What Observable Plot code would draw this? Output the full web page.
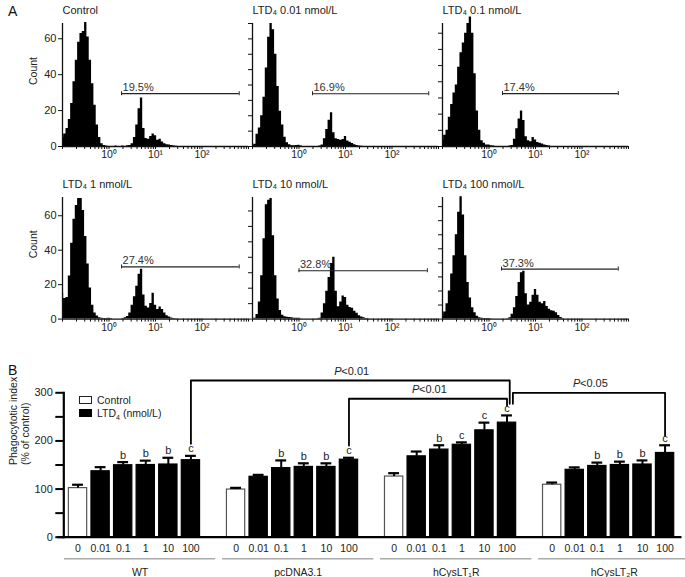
<!DOCTYPE html>
<html><head><meta charset="utf-8">
<script src="https://cdn.jsdelivr.net/npm/d3@7"></script>
<script src="https://cdn.jsdelivr.net/npm/@observablehq/plot@0.6"></script>
<style>
body{margin:0;background:#fff;}
#fig{position:relative;width:685px;height:577px;overflow:hidden;font-family:"Liberation Sans",Arial,sans-serif;color:#222;background:#fff;}
#fig svg{position:absolute;overflow:visible;}
.plabel{position:absolute;font-size:14px;line-height:14px;color:#111;}
.leg{position:absolute;font-size:10.5px;line-height:12px;color:#222;}
.box{position:absolute;width:12px;height:7px;}
</style></head><body><div id="fig"></div>
<script>
// ================= Panel A data (flow-cytometry histograms) =================
const histBinStartLog = -1;      // first bin at 10^-1
const histBinStepLog = 0.05;     // bin width in decades
const histTitles = ["Control", "LTD₄ 0.01 nmol/L", "LTD₄ 0.1 nmol/L", "LTD₄ 1 nmol/L", "LTD₄ 10 nmol/L", "LTD₄ 100 nmol/L"];
const histPercentLabels = ["19.5%", "16.9%", "17.4%", "27.4%", "32.8%", "37.3%"];
const countsControl = [5,7,10,15,24,36,48,58,63,64,69,61,48,35,23,12,5,1.5,0.5,0.3,
  0,0,0,0.3,0,0,0.3,0,0.4,0.5,
  1.5,5,12,21,27,10,4.5,4,5.5,7,6,3.5,4,2.5,1.5,1,0.8,0.5,0.3,0.2,0,0,0];
const counts001 = [0.3,1.5,8,12,20,32,51,71,80,76,60,39,23,14,6,2.5,1.2,0.5,0.5,0.6,
  0.8,0.4,0,0,0,0,0,0,0,0.3,
  1,5,11,17,22,9,5,4.5,4,4.5,6.5,3.5,2.8,2,1.2,0.6,0.4,0.2,0,0,0,0,0];
const counts01 = [4,7,10,18,26,33,38,49,58,64,70,76,80,70,45,22,10,3.5,2,1,
  1,0.5,0.3,0,0,0,0,0,0,0.3,
  0.6,4.5,11,17,22,16,6,3.5,3,5.5,4,2.5,2,1.5,1,0.6,0.3,0,0,0,0,0,0];
const counts1 = [15,12,12.5,25,44,58,66,70,70,63,48,32,18,8,3.5,1.8,0.8,0.5,0.3,0.3,
  0.5,0.3,0,0,0,0,0.4,0.8,1.5,3.5,
  8,13,19,26,29,14,7.5,6.5,9,15,8,5.5,7,5.5,3.5,2,1.2,0.7,0.4,0.2,0,0,0];
const counts10 = [0,0.5,3,11,28,52,74,77,78,54,28,13,5.5,2.5,1.5,1.2,1,0.8,0.6,0.5,
  0.5,0.3,0,0,0,0,0,0,0.3,0.5,
  4,10,18,27,36,40,18,8,11,15,14,9,7.5,7,5,3.8,2.2,1.3,0.8,0.4,0.2,0,0];
const counts100 = [2,5,11,20,32,45,60,76,87,74,45,26,15,8,4.5,2,1,0.6,0.5,0.5,
  0.4,0.3,0,0,0,0,0,0,0.3,1,
  3.5,8,16,26,33,34,18,10,12,17,21,17,12,11,12.5,9,7,6,5.5,4.5,2.5,1.2,0.4];
const gateCount = [29.4, 34.3, 32.7, 30.3, 31.3, 35.6];
const gateStartLog = [0.27, 0.29, 0.29, 0.27, 0.0, 0.27];
const gateEndLog = [2.8, 2.79, 2.78, 2.8, 2.76, 2.78];
const histYMax = [68.5, 80, 76, 70.6, 78.7, 86.5];
const histYTickStep = [20, 10, 10, 20, 10, 10];
const histXDomain = [0.1, 1000];
const decadeNames = {0: "10⁰", 1: "10¹", 2: "10²"};

// ================= Panel B data (phagocytotic index) =================
const groups = ["WT", "pcDNA3.1", "hCysLT₁R", "hCysLT₂R"];
const doseLabels = ["0", "0.01", "0.1", "1", "10", "100"];
const meanWT  = [102, 137, 149.5, 150, 151, 160];
const errWT   = [7, 8.5, 6.5, 9, 14, 9];
const meanPc  = [99, 125.5, 143.5, 146, 146, 161];
const errPc   = [3.5, 4, 16, 7.5, 7.5, 4];
const meanLT1 = [126, 168, 182, 192, 222, 238];
const errLT1  = [7, 10, 9, 5, 16, 15];
const meanLT2 = [109, 140, 148, 150, 151, 175];
const errLT2  = [4.5, 5, 7, 7, 8.5, 16];
const sigWT  = ["", "", "b", "b", "b", "c"];
const sigPc  = ["", "", "b", "b", "b", "c"];
const sigLT1 = ["", "", "b", "c", "c", "c"];
const sigLT2 = ["", "", "b", "b", "b", "c"];
const comparisons = [
  {from: "WT", to: "hCysLT₁R", dose: "100", p: "<0.01"},
  {from: "pcDNA3.1", to: "hCysLT₁R", dose: "100", p: "<0.01"},
  {from: "hCysLT₁R", to: "hCysLT₂R", dose: "100", p: "<0.05"}
];
const yTicksB = [0, 50, 100, 150, 200, 250, 300];

// ================= drawing =================
const fig = document.getElementById("fig");
const FONT = "'Liberation Sans', Arial, sans-serif";
function place(svg, left, top) {
  svg.style.position = "absolute";
  svg.style.left = left + "px";
  svg.style.top = top + "px";
  fig.appendChild(svg);
}

const xTicksHist = [];
for (let k = -1; k <= 2; k++) for (let m = 1; m <= 9; m++) xTicksHist.push(m * Math.pow(10, k));
xTicksHist.push(1000);
function decadeLabel(d) {
  for (const e of [0, 1, 2]) if (Math.abs(d - Math.pow(10, e)) < 1e-9) return decadeNames[e];
  return "";
}

const allCounts = [countsControl, counts001, counts01, counts1, counts10, counts100];
const rowsLayout = [{top: 22.7, bottom: 145.7}, {top: 196.7, bottom: 318.3}];
const colsAxisX = [62, 252.2, 442.4];
const HM = {l: 45, r: 12, t: 22, b: 22}, HW = 186;

allCounts.forEach((counts, i) => {
  const row = Math.floor(i / 3), col = i % 3;
  const lay = rowsLayout[row];
  const yMax = histYMax[i];
  const rows = counts.map((c, j) => ({x: Math.pow(10, histBinStartLog + j * histBinStepLog), y: c}));
  const yt = d3.range(0, yMax + 0.01, histYTickStep[i]);
  const g0 = Math.pow(10, gateStartLog[i]), g1 = Math.pow(10, gateEndLog[i]);
  const marks = [
    Plot.areaY(rows, {x: "x", y: "y", curve: "step", fill: "#000"}),
    Plot.ruleY([0], {stroke: "#111", strokeWidth: 1.3}),
    Plot.ruleX([histXDomain[0]], {y1: 0, y2: yMax, stroke: "#111", strokeWidth: 1.3}),
    Plot.axisX({ticks: xTicksHist, tickSize: 3, tickPadding: 1.5, tickFormat: decadeLabel, fontSize: 10.5, stroke: "#111", label: null}),
    Plot.axisY({ticks: yt, tickSize: 4, tickPadding: 2, tickFormat: col === 0 ? (d => d) : (() => ""), fontSize: 11, stroke: "#111", label: null}),
    Plot.ruleY([gateCount[i]], {x1: g0, x2: g1, stroke: "#222", strokeWidth: 1.2}),
    Plot.ruleX([g0, g1], {y1: gateCount[i], y2: gateCount[i], insetTop: -2, insetBottom: -2, stroke: "#222", strokeWidth: 1}),
    Plot.text([histPercentLabels[i]], {x: g0, y: gateCount[i], text: d => d, textAnchor: "start", dx: 1, dy: -6, fontSize: 11, fill: "#333"}),
    Plot.text([histTitles[i]], {frameAnchor: "top-left", text: d => d, textAnchor: "start", lineAnchor: "middle", dy: -13, fontSize: 11, fill: "#222"})
  ];
  if (col === 0) marks.push(Plot.text(["Count"], {frameAnchor: "left", text: d => d, rotate: -90, dx: -29, fontSize: 10.5, fill: "#222"}));
  const svg = Plot.plot({
    width: HM.l + HW + HM.r, height: HM.t + (lay.bottom - lay.top) + HM.b,
    marginLeft: HM.l, marginRight: HM.r, marginTop: HM.t, marginBottom: HM.b,
    style: {background: "transparent", fontFamily: FONT, color: "#222", overflow: "visible"},
    x: {type: "log", domain: histXDomain},
    y: {domain: [0, yMax]},
    marks
  });
  place(svg, colsAxisX[col] - HM.l, lay.top - HM.t);
});

// ---- Panel B ----
const means = [meanWT, meanPc, meanLT1, meanLT2];
const errs = [errWT, errPc, errLT1, errLT2];
const sigs = [sigWT, sigPc, sigLT1, sigLT2];
const slotsPerGroup = doseLabels.length + 1;
const bars = [];
groups.forEach((g, gi) => doseLabels.forEach((d, di) => {
  bars.push({group: g, dose: d, slot: gi * slotsPerGroup + di, mean: means[gi][di], err: errs[gi][di], sig: sigs[gi][di], control: di === 0});
}));
const slotOf = (g, d) => groups.indexOf(g) * slotsPerGroup + doseLabels.indexOf(d);
const groupInfo = groups.map((g, gi) => ({group: g, first: gi * slotsPerGroup}));

// bracket layout (annotation styling)
const bracketTop = [325.6, 287.6, 300];
const bracketFeet = [[194, 277], [190.5, 273.6], [277, 211]];
const bracketLegShift = [[0, 0.12], [0, 0], [0.26, 0]];
const bracketPts = [], bracketLabels = [];
comparisons.forEach((c, k) => {
  const x1 = slotOf(c.from, c.dose) + bracketLegShift[k][0];
  const x2 = slotOf(c.to, c.dose) + bracketLegShift[k][1];
  const top = bracketTop[k];
  bracketPts.push({k, x: x1, y: bracketFeet[k][0]}, {k, x: x1, y: top}, {k, x: x2, y: top}, {k, x: x2, y: bracketFeet[k][1]});
  bracketLabels.push({x: (x1 + x2) / 2, y: top, p: c.p});
});

const BM = {l: 63.3, r: 3.5, t: 34.3, b: 40.3}, BTop = 358;
const barHalf = 0.405, capHalf = 0.24;
const svgB = Plot.plot({
  width: 685, height: 577 - BTop,
  marginLeft: BM.l, marginRight: BM.r, marginTop: BM.t, marginBottom: BM.b,
  style: {background: "transparent", fontFamily: FONT, color: "#222", overflow: "visible"},
  x: {type: "linear", domain: [-0.63, 26.75]},
  y: {domain: [0, 300]},
  marks: [
    Plot.rectY(bars, {x1: d => d.slot - barHalf, x2: d => d.slot + barHalf, y1: 0, y2: "mean",
      fill: d => d.control ? "#fff" : "#000", stroke: d => d.control ? "#555" : "#000", strokeWidth: 1.2}),
    Plot.ruleX(bars, {x: "slot", y1: "mean", y2: d => d.mean + d.err, stroke: "#000", strokeWidth: 2}),
    Plot.ruleY(bars, {y: d => d.mean + d.err, x1: d => d.slot - capHalf, x2: d => d.slot + capHalf, stroke: "#000", strokeWidth: 2.2}),
    Plot.text(bars.filter(d => d.sig), {x: "slot", y: d => d.mean + d.err, text: "sig", dy: -7, fontSize: 11, fill: "#222"}),
    Plot.frame({anchor: "left", stroke: "#000", strokeWidth: 2.2}),
    Plot.ruleY([0], {stroke: "#000", strokeWidth: 2.2, insetLeft: -6}),
    Plot.axisY({ticks: yTicksB, tickSize: 8, tickPadding: 3, strokeWidth: 2, stroke: "#000", tickFormat: d => d % 100 === 0 ? d : "", fontSize: 11, label: null}),
    Plot.axisX({ticks: bars.map(b => b.slot), tickSize: 0, tickPadding: 7, tickFormat: s => doseLabels[s % slotsPerGroup], fontSize: 10.5, label: null}),
    Plot.ruleY(groupInfo, {y: () => 0, x1: d => d.first - 0.6, x2: d => d.first + 6.1, dy: 21.6, stroke: "#aaa", strokeWidth: 1.4}),
    Plot.text(groupInfo, {x: d => d.first + 2.75, y: () => 0, text: "group", dy: 35, fontSize: 10.5, fill: "#222"}),
    Plot.line(bracketPts, {x: "x", y: "y", z: "k", stroke: "#000", strokeWidth: 1.8}),
    Plot.text(bracketLabels, {x: "x", y: "y", text: () => "P", dx: -16, dy: -9.5, textAnchor: "start", fontStyle: "italic", fontSize: 11, fill: "#222"}),
    Plot.text(bracketLabels, {x: "x", y: "y", text: "p", dx: -9, dy: -9.5, textAnchor: "start", fontSize: 11, fill: "#222"}),
    Plot.text(["Phagocytotic index\n(% of control)"], {frameAnchor: "left", text: d => d, rotate: -90, dx: -45, lineHeight: 1.2, fontSize: 10.5, fill: "#222"})
  ]
});
place(svgB, 0, BTop);

// panel letters and legend
function addDiv(cls, html, left, top, extra) {
  const el = document.createElement("div");
  el.className = cls; el.innerHTML = html;
  el.style.left = left + "px"; el.style.top = top + "px";
  if (extra) Object.assign(el.style, extra);
  fig.appendChild(el);
}
addDiv("plabel", "A", 8, 4);
addDiv("plabel", "B", 8, 363);
addDiv("box", "", 79, 396, {border: "1.3px solid #222", background: "#fff", boxSizing: "border-box", width: "13px", height: "8px"});
addDiv("box", "", 79, 409, {background: "#000", width: "13px", height: "8px"});
addDiv("leg", "Control", 97, 394);
addDiv("leg", "LTD<sub style='font-size:7px'>4</sub> (nmol/L)", 97, 407);
</script></body></html>
